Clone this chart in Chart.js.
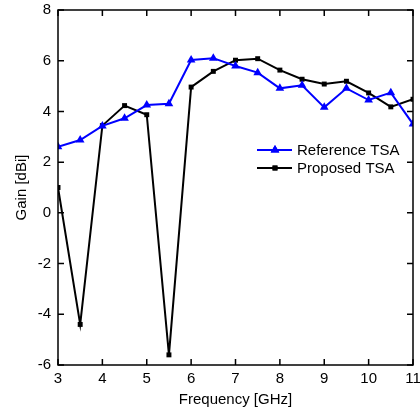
<!DOCTYPE html>
<html>
<head>
<meta charset="utf-8">
<script src="https://cdn.jsdelivr.net/npm/chart.js@4.4.1/dist/chart.umd.min.js"></script>
<style>
  html, body { margin: 0; padding: 0; background: #fff; }
  #wrap { width: 420px; height: 412px; }
</style>
</head>
<body>
<div id="wrap"><canvas id="myChart" width="420" height="412"></canvas></div>
<script>
// frequencies in GHz
const freqs = [3, 3.5, 4, 4.5, 5, 5.5, 6, 6.5, 7, 7.5, 8, 8.5, 9, 9.5, 10, 10.5, 11];
// gain in dBi
const referenceTSA = [2.61, 2.87, 3.43, 3.73, 4.25, 4.3, 6.03, 6.1, 5.79, 5.53, 4.91, 5.03, 4.16, 4.91, 4.45, 4.74, 3.5];
const proposedTSA = [1.0, -4.4, 3.44, 4.23, 3.87, -5.6, 4.96, 5.58, 6.02, 6.08, 5.63, 5.27, 5.08, 5.19, 4.73, 4.18, 4.48];
const xTicks = [3, 4, 5, 6, 7, 8, 9, 10, 11];
const yTicks = [-6, -4, -2, 0, 2, 4, 6, 8];

const font = "Liberation Sans, Arial, sans-serif";

const toPoints = (ys) => freqs.map((f, i) => ({ x: f, y: ys[i] }));

// inside ticks on all four sides + frame
const frame = {
  id: 'frame',
  afterDraw(chart) {
    const { ctx, chartArea: a, scales } = chart;
    ctx.save();
    ctx.strokeStyle = '#000';
    ctx.lineWidth = 1.5;
    ctx.beginPath();
    xTicks.forEach(v => {
      const px = scales.x.getPixelForValue(v);
      ctx.moveTo(px, a.bottom); ctx.lineTo(px, a.bottom - 6);
      ctx.moveTo(px, a.top); ctx.lineTo(px, a.top + 6);
    });
    yTicks.forEach(v => {
      const py = scales.y.getPixelForValue(v);
      ctx.moveTo(a.left, py); ctx.lineTo(a.left + 6, py);
      ctx.moveTo(a.right, py); ctx.lineTo(a.right - 6, py);
    });
    ctx.stroke();
    ctx.strokeRect(a.left, a.top, a.right - a.left, a.bottom - a.top);
    ctx.restore();
  }
};

// legend drawn like the original (line - marker - line)
const legendBox = {
  id: 'legendBox',
  afterDraw(chart) {
    const { ctx } = chart;
    ctx.save();
    const items = [
      { label: 'Reference TSA', color: '#0000ff', shape: 'triangle', y: 150 },
      { label: 'Proposed TSA', color: '#000000', shape: 'rect', y: 168 }
    ];
    items.forEach(it => {
      ctx.strokeStyle = it.color;
      ctx.lineWidth = 2;
      ctx.beginPath();
      ctx.moveTo(257, it.y); ctx.lineTo(292, it.y);
      ctx.stroke();
      ctx.fillStyle = it.color;
      Chart.helpers.drawPoint(ctx, { pointStyle: it.shape, radius: it.shape === 'triangle' ? 5 : 3.5, rotation: 0, borderWidth: 0 }, 275, it.y);
      ctx.fill();
      ctx.fillStyle = '#000';
      ctx.font = '15px ' + font;
      ctx.textBaseline = 'middle';
      ctx.fillText(it.label, 297, it.y + 1);
    });
    ctx.restore();
  }
};

new Chart(document.getElementById('myChart').getContext('2d'), {
  type: 'line',
  data: {
    datasets: [
      {
        label: 'Reference TSA',
        data: toPoints(referenceTSA),
        borderColor: '#0000ff',
        backgroundColor: '#0000ff',
        borderWidth: 2,
        pointStyle: 'triangle',
        pointRadius: 5,
        pointBorderWidth: 0,
        tension: 0
      },
      {
        label: 'Proposed TSA',
        data: toPoints(proposedTSA),
        borderColor: '#000000',
        backgroundColor: '#000000',
        borderWidth: 2,
        pointStyle: 'rect',
        pointRadius: 3.5,
        pointBorderWidth: 0,
        tension: 0
      }
    ]
  },
  options: {
    responsive: false,
    animation: false,
    layout: { padding: { top: 10, right: 7, left: 0, bottom: 0 } },
    plugins: { legend: { display: false }, tooltip: { enabled: false } },
    scales: {
      x: {
        type: 'linear',
        min: 3, max: 11,
        afterBuildTicks: (s) => { s.ticks = xTicks.map(v => ({ value: v })); },
        afterFit: (s) => { s.height = 47; s.paddingLeft = 0; s.paddingRight = 0; },
        grid: { display: false, drawTicks: false },
        border: { display: false },
        ticks: { color: '#000', font: { family: font, size: 15 }, padding: 5, maxRotation: 0 },
        title: { display: true, text: 'Frequency [GHz]', color: '#000', font: { family: font, size: 15 }, padding: { top: 0, bottom: 3 } }
      },
      y: {
        min: -6, max: 8,
        afterBuildTicks: (s) => { s.ticks = yTicks.map(v => ({ value: v })); },
        afterFit: (s) => { s.width = 58; s.paddingTop = 0; s.paddingBottom = 0; },
        grid: { display: false, drawTicks: false },
        border: { display: false },
        ticks: { color: '#000', font: { family: font, size: 15 }, padding: 7 },
        title: { display: true, text: 'Gain [dBi]', color: '#000', font: { family: font, size: 15 }, padding: { top: 13, bottom: 0 } }
      }
    }
  },
  plugins: [frame, legendBox]
});
</script>
</body>
</html>
